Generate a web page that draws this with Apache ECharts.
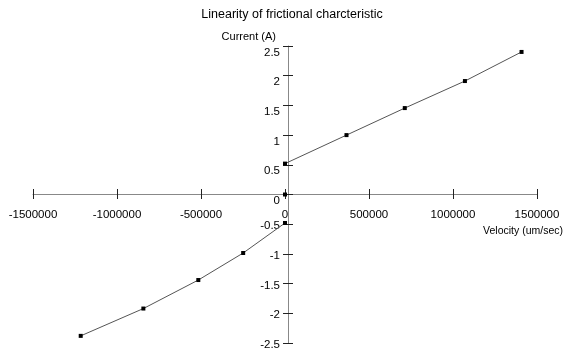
<!DOCTYPE html>
<html>
<head>
<meta charset="utf-8">
<script src="https://cdn.jsdelivr.net/npm/echarts@6/dist/echarts.min.js"></script>
<style>html,body{margin:0;padding:0;background:#fff}#c{width:566px;height:356px}</style>
</head>
<body>
<div id="c"></div>
<script>
const titleText = 'Linearity of frictional charcteristic';
const xName = 'Velocity (um/sec)';
const yName = 'Current (A)';
const negVelocity = [-1216000, -843000, -516000, -249000, 0];
const negCurrent = [-2.38, -1.92, -1.44, -0.985, -0.48];
const originVelocity = [0];
const originCurrent = [0];
const posVelocity = [0, 366000, 713000, 1071000, 1408000];
const posCurrent = [0.52, 1.0, 1.455, 1.91, 2.40];

const pairs = (xs, ys) => xs.map((x, i) => [x, ys[i]]);
const font = 'Liberation Sans, Arial, Helvetica, sans-serif';
const chart = echarts.init(document.getElementById('c'), null, {renderer: 'canvas'});
const lineStyle = {color: '#555', width: 1};
const itemStyle = {color: '#000'};
const X_OFF = -149;   // moves x axis up to the zero line
const Y_OFF = -255;   // moves y axis right to the zero line
const baseX = {
  type: 'value', min: -1500000, max: 1500000, interval: 500000,
  splitLine: {show: false}, offset: X_OFF, position: 'bottom'
};
const baseY = {
  type: 'value', min: -2.5, max: 2.5, interval: 0.5,
  splitLine: {show: false}, offset: Y_OFF, position: 'left'
};
chart.setOption({
  animation: false,
  backgroundColor: '#fff',
  title: {
    text: titleText, left: 287, textAlign: 'center', top: 3,
    textStyle: {fontFamily: font, fontSize: 12.5, fontWeight: 'normal', color: '#000'}
  },
  grid: {left: 33, right: 24, top: 46, bottom: 13, containLabel: false},
  xAxis: [
    Object.assign({}, baseX, {
      name: xName, nameLocation: 'end', nameGap: 26,
      nameTextStyle: {fontFamily: font, fontSize: 10.5, color: '#000', align: 'right', verticalAlign: 'top', padding: [32, 0, 0, 0]},
      axisLine: {onZero: false, lineStyle: {color: '#888', width: 1}},
      axisTick: {inside: false, length: 5, lineStyle: {color: '#222'}},
      axisLabel: {margin: 15, fontFamily: font, fontSize: 11.5, color: '#000', showMinLabel: true, showMaxLabel: true,
        formatter: v => String(v)}
    }),
    Object.assign({}, baseX, {
      axisLine: {onZero: false, show: false},
      axisTick: {inside: true, length: 5, lineStyle: {color: '#222'}},
      axisLabel: {show: false}
    })
  ],
  yAxis: [
    Object.assign({}, baseY, {
      name: yName, nameLocation: 'end', nameGap: 4,
      nameTextStyle: {fontFamily: font, fontSize: 11, color: '#000', align: 'right', padding: [0, 12, 0, 0]},
      axisLine: {onZero: false, lineStyle: {color: '#888', width: 1}},
      axisTick: {inside: false, length: 5, lineStyle: {color: '#222'}},
      axisLabel: {margin: 8, fontFamily: font, fontSize: 11.5, color: '#000', showMinLabel: true, showMaxLabel: true,
        formatter: v => (v >= 0 ? '{p|' + v + '}' : '{n|' + v + '}'),
        rich: {
          p: {fontFamily: font, fontSize: 11.5, color: '#000', padding: [13, 0, 0, 0]},
          n: {fontFamily: font, fontSize: 11.5, color: '#000', padding: [4, 0, 0, 0]}
        }}
    }),
    Object.assign({}, baseY, {
      axisLine: {onZero: false, show: false},
      axisTick: {inside: true, length: 5, lineStyle: {color: '#222'}},
      axisLabel: {show: false}
    })
  ],
  series: [
    {type: 'line', data: pairs(negVelocity, negCurrent), symbol: 'rect', symbolSize: 4, lineStyle, itemStyle, z: 5},
    {type: 'line', data: pairs(originVelocity, originCurrent), symbol: 'rect', symbolSize: 4, lineStyle, itemStyle, z: 5},
    {type: 'line', data: pairs(posVelocity, posCurrent), symbol: 'rect', symbolSize: 4, lineStyle, itemStyle, z: 5}
  ]
});
</script>
</body>
</html>
